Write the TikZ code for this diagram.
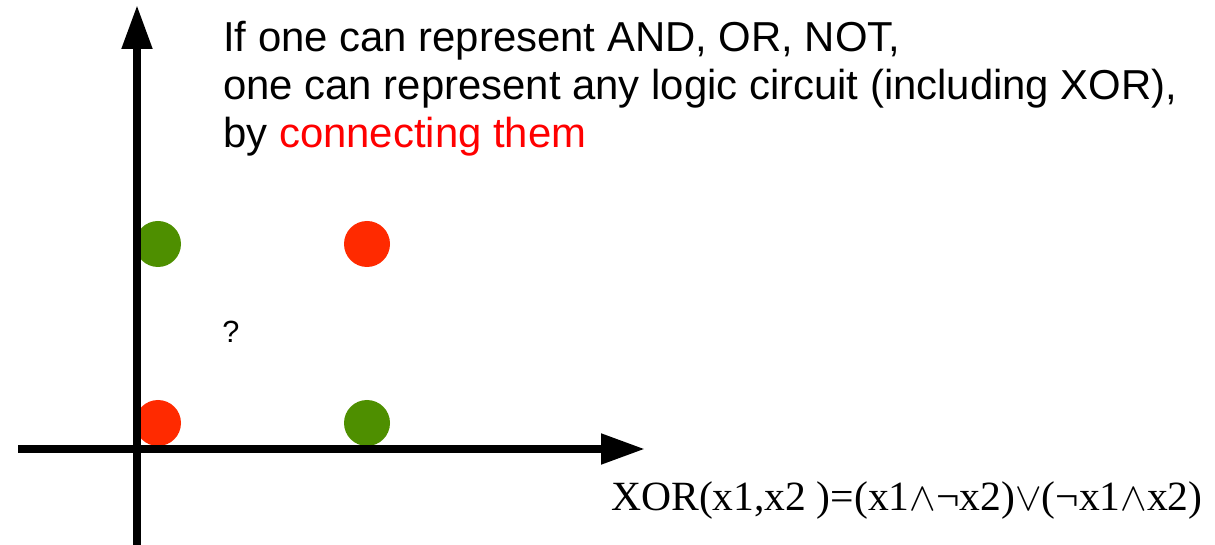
\documentclass[tikz,border=0pt]{standalone}
\usepackage{fontspec}
\setmainfont{Liberation Sans}
\newfontfamily\serifface{Liberation Serif}
\usetikzlibrary{arrows.meta}
\definecolor{dotgreen}{RGB}{78,143,0}
\definecolor{dotred}{RGB}{255,42,0}
\definecolor{textred}{RGB}{255,0,0}
\newcommand{\andop}{\scalebox{1.2}{$\wedge$}}
\newcommand{\orop}{\scalebox{1.2}{$\vee$}}
\begin{document}
\begin{tikzpicture}[x=0.75pt,y=-0.75pt,
  axis/.style={line width=6pt,-{Triangle[length=33pt,width=21.75pt]}},
  dot/.style={circle,inner sep=0pt,minimum size=34.5pt},
  title/.style={anchor=base west,inner sep=0pt,font=\fontsize{31.4pt}{36pt}\selectfont},
  formula/.style={anchor=base west,inner sep=0pt,font=\serifface\fontsize{31.2pt}{36pt}\selectfont}]
\useasboundingbox (0,0) rectangle (1215,545);
% data points of the XOR truth table
\node[dot,fill=dotgreen] (p01) at (158,244) {};
\node[dot,fill=dotred]   (p11) at (367,244) {};
\node[dot,fill=dotred]   (p00) at (158,423) {};
\node[dot,fill=dotgreen] (p10) at (367,423) {};
% axes
\coordinate (ybot) at (137,545);
\coordinate (ytop) at (137,5);
\coordinate (xleft) at (18,449);
\coordinate (xright) at (645,449);
\draw[axis] (ybot) -- (ytop);
\draw[axis] (xleft) -- (xright);
% labels
\node[anchor=base west,inner sep=0pt,font=\fontsize{23pt}{26pt}\selectfont] (q) at (222,343) {?};
\node[title] (l1) at (223,52) {If one can represent AND, OR, NOT,};
\node[title] (l2) at (223,100) {one can represent any logic circuit (including XOR),};
\node[title] (l3) at (223,148) {by \textcolor{textred}{connecting them}};
\node[formula] (f) at (611,510) {XOR(x1,x2 )=(x1\andop¬x2)\orop(¬x1\andop x2)};
\end{tikzpicture}
\end{document}
